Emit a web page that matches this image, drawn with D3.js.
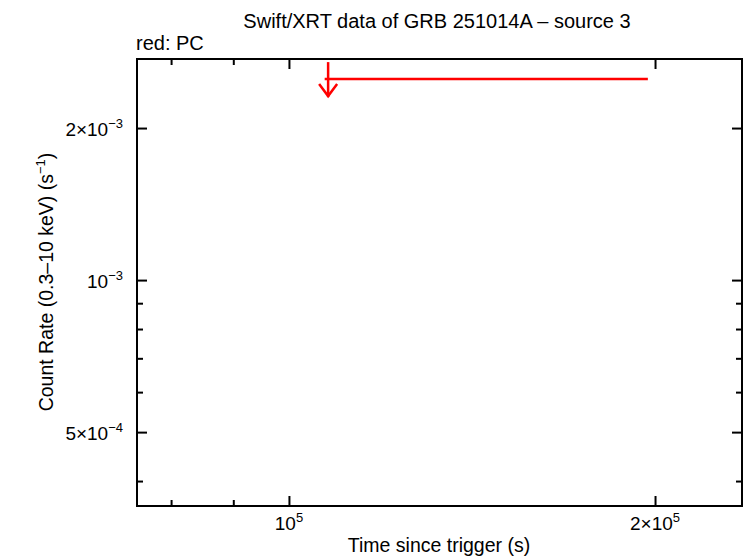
<!DOCTYPE html>
<html lang="en">
<head>
  <meta charset="UTF-8">
  <title>Swift/XRT light curve</title>
  <script src="https://d3js.org/d3.v7.min.js"></script>
  <style>
    body { margin: 0; background: #fff; }
    svg text { font-family: "Liberation Sans", Arial, sans-serif; fill: #000; }
    .axis path, .axis line { stroke: #000; stroke-width: 2; }
  </style>
</head>
<body>
  <svg width="746" height="558"></svg>
  <script>
    // upper limit bin (PC mode)
    const ulTime = [107700];
    const ulStart = [107000];
    const ulEnd = [197300];
    const ulRate = [2.5e-3];

    const xMajor = [1e5, 2e5];
    const xMajorLabels = [["10", "5"], ["2×10", "5"]];
    const xMinor = [8e4, 9e4];
    const yMajor = [5e-4, 1e-3, 2e-3];
    const yMajorLabels = [["5×10", "−4"], ["10", "−3"], ["2×10", "−3"]];
    const yMinor = [4e-4, 6e-4, 7e-4, 8e-4, 9e-4];

    const svg = d3.select("svg");
    const margin = {top: 59, right: 4, bottom: 52, left: 137};
    const width = 746 - margin.left - margin.right;
    const height = 558 - margin.top - margin.bottom;
    const g = svg.append("g").attr("transform", `translate(${margin.left},${margin.top})`);

    const x = d3.scaleLog().domain([75000, 235800]).range([0, width]);
    const y = d3.scaleLog().domain([3.57e-4, 2.74e-3]).range([height, 0]);

    // ticks on all four sides, pointing inward
    function tickAxis(axisFn, scale, vals, size, transform) {
      g.append("g")
        .attr("class", "axis")
        .attr("transform", transform)
        .call(axisFn(scale).tickValues(vals).tickSize(size).tickFormat(""))
        .call(a => a.select(".domain").remove());
    }
    tickAxis(d3.axisTop, x, xMajor, 10, `translate(0,${height})`);
    tickAxis(d3.axisTop, x, xMinor, 6, `translate(0,${height})`);
    tickAxis(d3.axisBottom, x, xMajor, 10, "translate(0,0)");
    tickAxis(d3.axisBottom, x, xMinor, 6, "translate(0,0)");
    tickAxis(d3.axisRight, y, yMajor, 10, "translate(0,0)");
    tickAxis(d3.axisRight, y, yMinor, 6, "translate(0,0)");
    tickAxis(d3.axisLeft, y, yMajor, 10, `translate(${width},0)`);
    tickAxis(d3.axisLeft, y, yMinor, 6, `translate(${width},0)`);

    g.append("rect")
      .attr("width", width).attr("height", height)
      .attr("fill", "none").attr("stroke", "#000").attr("stroke-width", 2);

    // tick labels with superscripts
    xMajor.forEach((v, i) => {
      const t = g.append("text")
        .attr("x", x(v)).attr("y", height + 24)
        .attr("text-anchor", "middle")
        .attr("font-size", 19);
      t.append("tspan").text(xMajorLabels[i][0]);
      t.append("tspan").attr("dy", -8).attr("font-size", 13).text(xMajorLabels[i][1]);
    });
    yMajor.forEach((v, i) => {
      const t = g.append("text")
        .attr("x", -14).attr("y", y(v) + 8)
        .attr("text-anchor", "end")
        .attr("font-size", 19);
      t.append("tspan").text(yMajorLabels[i][0]);
      t.append("tspan").attr("dy", -8).attr("font-size", 13).text(yMajorLabels[i][1]);
    });

    // titles
    svg.append("text")
      .attr("x", 437).attr("y", 28)
      .attr("text-anchor", "middle").attr("font-size", 20)
      .text("Swift/XRT data of GRB 251014A – source 3");
    svg.append("text")
      .attr("x", 136).attr("y", 50)
      .attr("font-size", 20)
      .text("red: PC");
    svg.append("text")
      .attr("x", 439).attr("y", 552)
      .attr("text-anchor", "middle").attr("font-size", 19.5)
      .text("Time since trigger (s)");
    const yl = svg.append("text")
      .attr("transform", `translate(53,282) rotate(-90)`)
      .attr("text-anchor", "middle").attr("font-size", 19.5);
    yl.append("tspan").text("Count Rate (0.3–10 keV) (s");
    yl.append("tspan").attr("dy", -8).attr("font-size", 13).text("−1");
    yl.append("tspan").attr("dy", 8).text(")");

    // upper limit: horizontal bar + downward arrow
    const ul = g.append("g").attr("stroke", "red").attr("stroke-width", 2.5).attr("fill", "none");
    ulRate.forEach((r, i) => {
      const yy = y(r), xx = x(ulTime[i]);
      ul.append("line")
        .attr("x1", x(ulStart[i])).attr("x2", x(ulEnd[i]))
        .attr("y1", yy).attr("y2", yy);
      ul.append("line")
        .attr("x1", xx).attr("x2", xx)
        .attr("y1", yy - 17).attr("y2", yy + 18);
      ul.append("path")
        .attr("d", `M${xx - 9},${yy + 5}L${xx},${yy + 17}L${xx + 9},${yy + 5}`);
    });
  </script>
</body>
</html>
